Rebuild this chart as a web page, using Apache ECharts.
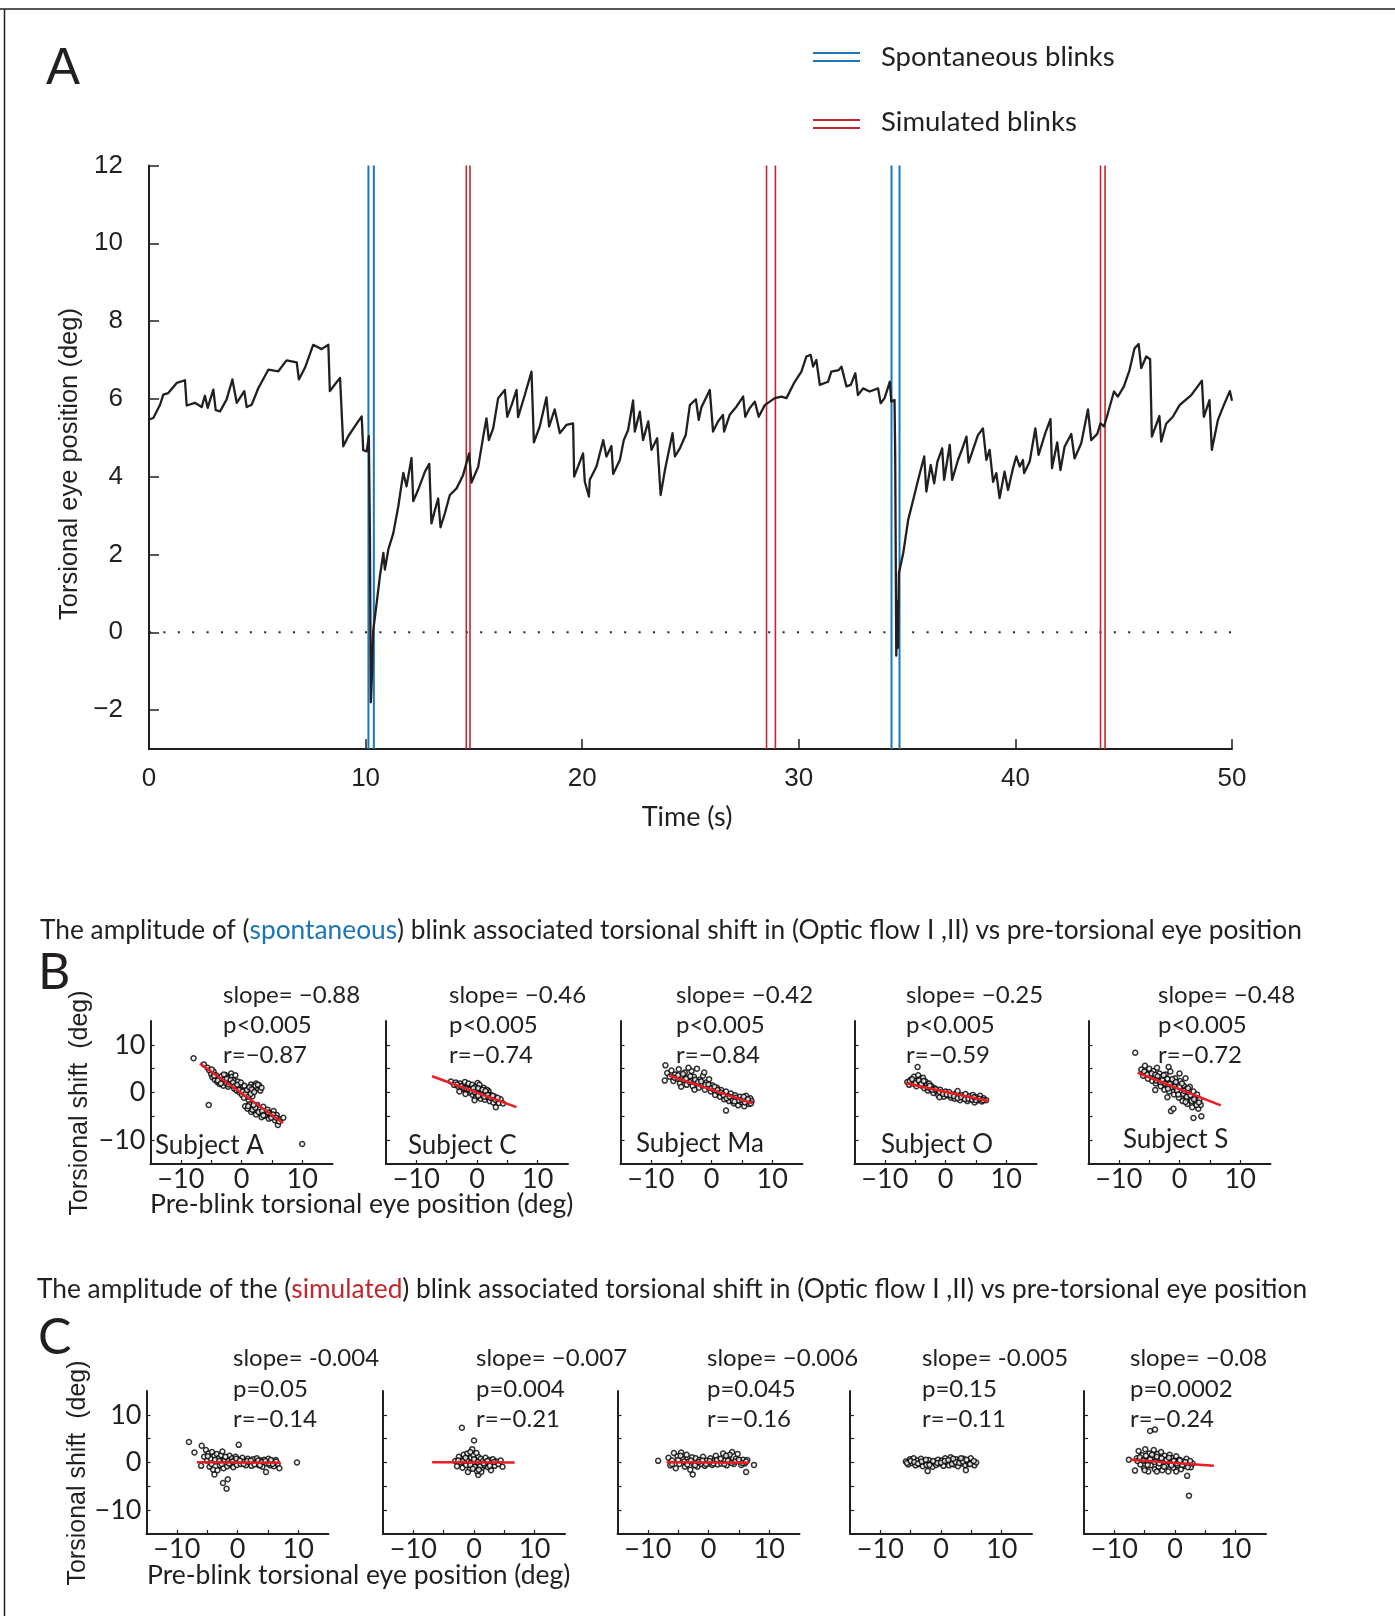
<!DOCTYPE html>
<html><head><meta charset="utf-8">
<script src="https://cdn.jsdelivr.net/npm/echarts@6/dist/echarts.min.js"></script>
<style>html,body{margin:0;padding:0;background:#fff}#c{width:1395px;height:1616px}</style>
</head><body><div id="c"></div>
<script>
// ---------------- DATA ----------------
const timeTicks = [0, 10, 20, 30, 40, 50];
const positionTicks = [-2, 0, 2, 4, 6, 8, 10, 12];
const scatterTicks = [-10, -5, 0, 5, 10];
const scatterTickLabels = [-10, 0, 10];

// torsional eye position trace [time s, deg]
const trace = [[0,5.47],[0.2,5.51],[0.51,5.85],[0.66,6.11],[0.89,6.15],[1.28,6.41],[1.66,6.48],[1.74,5.83],[2.12,5.9],[2.43,5.79],[2.58,6.08],[2.71,5.77],[2.97,6.24],[3.08,5.71],[3.28,5.68],[3.58,5.98],[3.85,6.5],[4.05,5.9],[4.4,6.2],[4.51,5.79],[4.74,5.85],[5.05,6.28],[5.51,6.75],[5.97,6.71],[6.35,6.99],[6.82,6.94],[6.92,6.5],[7.2,6.8],[7.58,7.39],[7.97,7.28],[8.28,7.39],[8.35,6.2],[8.58,6.37],[8.82,6.54],[8.97,4.78],[9.2,5.04],[9.51,5.3],[9.82,5.55],[9.89,4.68],[10.05,4.65],[10.15,5.04],[10.2,2.5],[10.24,-1.8],[10.3,-1.0],[10.35,0.03],[10.51,0.75],[10.66,1.44],[10.82,2.04],[10.89,1.61],[11.05,2.13],[11.28,2.55],[11.51,3.24],[11.74,4.1],[11.89,3.75],[12.12,4.48],[12.2,3.37],[12.43,3.67],[12.74,4.13],[12.94,4.33],[13.04,2.8],[13.2,3.14],[13.35,3.44],[13.46,2.7],[13.66,3.06],[13.89,3.53],[14.2,3.7],[14.5,4.04],[14.78,4.6],[14.89,3.85],[15.2,4.26],[15.43,5.03],[15.58,5.5],[15.69,4.94],[15.89,5.24],[16.12,6.02],[16.43,6.23],[16.54,5.54],[16.74,5.84],[16.97,6.23],[17.04,5.53],[17.35,6.1],[17.66,6.7],[17.77,4.88],[18.04,5.29],[18.35,6.04],[18.47,5.29],[18.73,5.73],[18.97,5.12],[19.27,5.33],[19.58,5.37],[19.63,4.0],[20.04,4.6],[20.12,3.87],[20.31,3.49],[20.35,3.92],[20.66,4.26],[20.97,4.94],[21.12,4.52],[21.35,4.79],[21.43,4.07],[21.74,4.43],[21.92,4.94],[22.12,5.2],[22.35,5.96],[22.43,5.16],[22.66,5.67],[22.81,4.94],[23.05,5.42],[23.2,4.69],[23.46,4.99],[23.62,3.53],[23.82,4.17],[24.17,5.12],[24.28,4.52],[24.51,4.73],[24.78,5.07],[24.97,5.84],[25.25,5.99],[25.38,5.46],[25.5,5.78],[25.89,6.23],[26.04,5.16],[26.27,5.42],[26.5,5.59],[26.55,5.16],[26.81,5.59],[27.12,5.8],[27.43,6.06],[27.53,5.54],[27.73,5.76],[27.97,5.93],[28.15,5.54],[28.43,5.84],[28.89,6.02],[29.2,6.06],[29.43,6.02],[29.81,6.44],[30.12,6.7],[30.35,7.09],[30.55,7.13],[30.66,6.83],[30.81,7.0],[30.97,6.36],[31.35,6.44],[31.5,6.7],[31.84,6.74],[31.97,6.83],[32.2,6.32],[32.4,6.36],[32.61,6.66],[32.73,6.1],[32.97,6.27],[33.27,6.19],[33.66,6.27],[33.78,5.89],[33.96,6.02],[34.2,6.44],[34.27,5.93],[34.42,5.97],[34.45,4.6],[34.5,-0.6],[34.55,0.8],[34.58,-0.4],[34.62,1.52],[34.82,2.03],[35.05,2.89],[35.28,3.4],[35.51,3.92],[35.79,4.52],[35.89,3.62],[36.09,4.3],[36.25,3.83],[36.4,4.39],[36.62,4.73],[36.71,3.92],[36.97,4.82],[37.08,3.92],[37.35,4.43],[37.58,4.77],[37.74,5.03],[37.84,4.36],[38.04,4.69],[38.27,5.07],[38.5,5.24],[38.66,4.43],[38.81,4.69],[38.97,3.87],[39.12,4.09],[39.27,3.45],[39.5,4.13],[39.66,3.66],[39.89,4.22],[40.04,4.52],[40.2,4.26],[40.35,4.43],[40.4,4.09],[40.66,4.39],[40.92,5.24],[41.07,4.56],[41.38,5.12],[41.62,5.48],[41.69,4.22],[41.93,4.88],[42.08,4.17],[42.27,4.77],[42.58,5.1],[42.73,4.47],[43.04,4.86],[43.35,5.73],[43.5,4.94],[43.78,5.1],[43.93,5.37],[44.09,5.29],[44.27,5.63],[44.55,6.19],[44.73,6.06],[45.01,6.32],[45.27,6.74],[45.5,7.3],[45.69,7.41],[45.81,6.79],[46.04,7.09],[46.22,7.02],[46.3,5.03],[46.65,5.56],[46.73,4.9],[46.96,5.36],[47.27,5.54],[47.58,5.84],[48.12,6.1],[48.35,6.27],[48.61,6.47],[48.7,5.54],[48.96,5.97],[49.07,4.69],[49.35,5.46],[49.66,5.89],[49.9,6.2],[50.0,5.95]];

const spontaneousBlinks = [10.13, 10.38, 34.28, 34.65];
const simulatedBlinks = [14.65, 14.82, 28.51, 28.92, 43.93, 44.14];
const zeroLine = [[0, 0], [50, 0]];

const subjects = ['Subject A', 'Subject C', 'Subject Ma', 'Subject O', 'Subject S'];
const statsB = [['slope= \u22120.88','p<0.005','r=\u22120.87'],['slope= \u22120.46','p<0.005','r=\u22120.74'],['slope= \u22120.42','p<0.005','r=\u22120.84'],['slope= \u22120.25','p<0.005','r=\u22120.59'],['slope= \u22120.48','p<0.005','r=\u22120.72']];
const statsC = [['slope= -0.004','p=0.05','r=\u22120.14'],['slope= \u22120.007','p=0.004','r=\u22120.21'],['slope= \u22120.006','p=0.045','r=\u22120.16'],['slope= -0.005','p=0.15','r=\u22120.11'],['slope= \u22120.08','p=0.0002','r=\u22120.24']];

// spontaneous blinks: [pre-blink position, torsional shift]
const spontA = [[-7.9,7.2],[-6.2,5.9],[-5.6,5.2],[-5.3,4.6],[-5.0,3.9],[-4.8,3.2],[-4.6,4.4],[-4.4,2.7],[-4.2,3.6],[-4.0,2.2],[-3.8,3.0],[-3.6,1.8],[-3.5,2.6],[-3.3,3.4],[-3.1,2.1],[-3.0,1.4],[-2.8,2.8],[-2.6,3.6],[-2.5,1.9],[-2.3,2.4],[-2.2,1.2],[-2.0,3.1],[-1.9,2.0],[-1.7,4.0],[-1.6,3.3],[-1.5,1.5],[-1.3,2.6],[-1.2,0.8],[-1.0,3.6],[-0.9,1.8],[-0.8,0.4],[-0.6,2.3],[-0.5,1.1],[-0.3,0.0],[-0.2,1.6],[0.0,0.6],[0.1,-0.5],[0.3,1.2],[0.4,-1.1],[0.6,0.3],[0.8,-0.4],[1.0,0.9],[1.2,-1.6],[1.4,0.2],[1.6,1.7],[1.8,-0.8],[2.0,1.3],[2.2,0.6],[2.4,1.9],[2.6,0.9],[2.9,1.5],[3.1,0.4],[-5.4,-2.6],[0.6,-2.9],[1.0,-3.4],[1.3,-2.5],[1.6,-4.1],[1.9,-3.0],[2.1,-3.8],[2.4,-4.6],[2.6,-2.6],[2.9,-3.5],[3.1,-4.3],[3.3,-5.2],[3.6,-3.0],[3.8,-4.0],[4.0,-4.9],[4.3,-3.6],[4.5,-5.5],[4.8,-4.4],[5.0,-5.0],[5.3,-3.9],[5.5,-5.8],[5.8,-4.7],[6.0,-6.8],[6.4,-5.6],[6.9,-5.3],[10.0,-10.8],[-4.9,4.8],[-4.5,3.5],[-3.9,2.5],[-3.4,1.9],[-2.9,3.8],[-2.4,2.9],[-2.1,1.7],[-1.8,2.6],[-1.4,2.1],[-1.1,1.3],[-0.7,1.6],[-0.4,0.5],[-0.1,2.1],[0.2,0.2],[0.5,1.4],[0.7,-0.2],[0.9,0.5],[1.1,-0.9],[1.3,1.1],[1.5,-0.3],[1.7,0.7],[2.1,0.1],[2.3,1.4],[2.7,1.6],[3.3,1.0],[1.1,-2.9],[1.8,-3.6],[2.3,-3.2],[2.8,-4.1],[3.4,-3.9],[3.9,-4.6],[4.4,-4.2],[4.9,-5.3],[5.2,-4.6],[5.7,-5.3],[6.2,-6.1],[3.6,-4.8],[2.0,-2.6]];
const spontC = [[-4.3,2.3],[-3.8,1.6],[-3.5,2.1],[-3.1,1.2],[-2.8,1.9],[-2.5,0.8],[-2.3,1.5],[-2.0,2.2],[-1.8,0.4],[-1.6,1.2],[-1.4,1.9],[-1.2,0.0],[-1.0,0.9],[-0.8,1.6],[-0.7,-0.5],[-0.5,0.5],[-0.3,1.2],[-0.2,-1.0],[0.0,0.3],[0.1,2.0],[0.3,-0.4],[0.5,0.8],[0.6,-1.3],[0.8,0.1],[1.0,-0.7],[1.1,1.0],[1.3,-1.5],[1.5,-0.2],[1.7,-1.0],[1.9,0.3],[2.1,-1.8],[2.3,-0.6],[2.5,-1.2],[2.7,-2.1],[2.9,-0.9],[3.1,-3.1],[3.3,-1.6],[3.6,-2.2],[3.9,-1.4],[4.3,-2.3],[-2.9,0.2],[-0.4,-1.6],[0.4,1.6],[1.6,0.6],[-1.9,-0.3],[-3.3,1.7],[-2.6,1.3],[-2.1,0.9],[-1.7,0.8],[-1.3,0.6],[-0.9,0.2],[-0.6,0.9],[-0.1,-0.3],[0.2,0.9],[0.7,-0.4],[0.9,0.6],[1.2,-0.9],[1.4,0.3],[1.8,-0.5],[2.2,-1.1],[2.6,-0.7],[3.0,-1.5],[3.4,-1.1],[0.2,-0.7],[-0.4,0.1]];
const spontMa = [[-7.6,5.7],[-7.7,2.5],[-7.3,4.1],[-6.9,3.3],[-6.6,4.6],[-6.3,2.4],[-6.0,3.8],[-5.7,2.9],[-5.4,4.9],[-5.2,1.9],[-4.9,3.4],[-4.6,2.6],[-4.4,4.2],[-4.1,1.6],[-3.9,3.0],[-3.6,2.2],[-3.3,4.5],[-3.1,1.3],[-2.9,3.3],[-2.6,2.0],[-2.4,5.0],[-2.1,1.0],[-1.9,2.7],[-1.6,1.6],[-1.4,3.5],[-1.1,0.6],[-0.9,2.1],[-0.6,1.2],[-0.4,2.8],[-0.1,0.2],[0.1,1.5],[0.4,0.6],[0.6,-0.5],[0.9,1.0],[1.1,0.1],[1.4,-0.9],[1.6,0.5],[1.9,-0.3],[2.1,-1.4],[2.4,-3.8],[2.4,0.2],[2.7,-0.8],[2.9,-1.8],[3.2,-0.2],[3.4,-1.2],[3.7,-2.3],[3.9,-0.6],[4.2,-1.6],[4.4,-2.7],[4.7,-0.9],[4.9,-2.0],[5.2,-1.3],[5.4,-2.9],[5.7,-0.7],[5.9,-1.9],[6.2,-2.4],[6.4,-1.2],[6.6,-1.8],[-5.0,1.2],[-3.8,5.2],[-2.8,0.6],[-1.2,4.2],[-6.1,3.1],[-5.5,3.6],[-4.7,3.9],[-4.2,2.9],[-3.5,3.4],[-2.7,2.7],[-2.2,2.2],[-1.7,2.3],[-1.0,1.6],[-0.5,1.7],[0.0,0.9],[0.5,1.2],[1.0,0.5],[1.5,0.0],[2.0,-0.6],[2.5,-1.2],[3.0,-0.9],[3.5,-1.7],[4.0,-1.1],[4.5,-1.7],[5.0,-1.5],[5.5,-2.1],[6.0,-1.4],[6.5,-2.3],[3.8,-1.9],[5.3,-0.9]];
const spontO = [[-4.6,5.35],[-6.3,2.2],[-6.0,1.6],[-5.7,2.7],[-5.4,1.9],[-5.2,3.3],[-5.0,2.4],[-4.8,1.3],[-4.5,3.6],[-4.3,2.0],[-4.1,2.9],[-3.9,1.4],[-3.7,3.1],[-3.5,0.9],[-3.3,2.3],[-3.1,1.6],[-2.9,0.4],[-2.7,1.9],[-2.5,0.8],[-2.3,1.3],[-2.0,-0.1],[-1.8,0.9],[-1.5,0.3],[-1.2,-0.5],[-0.9,0.6],[-0.6,-0.2],[-0.3,-0.9],[0.0,0.2],[0.3,-0.6],[0.6,0.1],[0.9,-1.1],[1.2,-0.4],[1.5,-1.3],[1.8,-0.2],[2.1,-0.9],[2.4,-1.6],[2.7,-0.6],[3.0,-1.2],[3.3,-0.3],[3.6,-1.8],[3.9,-0.8],[4.2,-1.4],[4.5,-0.5],[4.8,-2.1],[5.1,-1.0],[5.4,-1.6],[5.7,-0.7],[6.0,-1.9],[6.3,-1.2],[6.7,-1.6],[-1.0,-1.0],[2.0,0.3],[-5.9,2.4],[-5.5,2.8],[-4.9,2.0],[-4.4,2.5],[-4.0,1.8],[-3.6,2.4],[-3.0,1.1],[-2.6,1.4],[-2.2,0.6],[-1.6,0.7],[-1.0,0.1],[-0.4,-0.3],[0.2,-0.4],[0.8,-0.6],[1.4,-0.8],[2.0,-1.2],[2.6,-1.0],[3.2,-1.4],[3.8,-1.3],[4.4,-1.5],[5.0,-1.6],[5.6,-1.3],[6.2,-1.6],[4.7,-1.0]];
const spontS = [[-7.3,8.35],[-1.8,5.35],[-6.3,4.8],[-6.0,3.5],[-5.7,5.6],[-5.5,4.2],[-5.2,2.9],[-5.0,5.0],[-4.8,3.6],[-4.5,2.4],[-4.3,4.5],[-4.1,3.1],[-3.9,1.9],[-3.7,5.2],[-3.5,2.7],[-3.3,4.0],[-3.1,1.3],[-2.9,3.3],[-2.7,2.1],[-2.5,0.6],[-2.3,3.8],[-2.1,1.6],[-1.9,2.7],[-1.7,0.2],[-1.5,4.4],[-1.3,1.1],[-1.1,2.3],[-0.9,-0.4],[-0.7,3.0],[-0.5,0.8],[-0.3,1.8],[-0.1,-1.1],[0.1,2.4],[0.3,0.3],[0.5,-1.8],[0.7,1.4],[0.9,-0.6],[1.1,0.7],[1.3,-2.4],[1.5,-0.1],[1.7,1.2],[1.9,-1.3],[2.1,-3.1],[2.3,0.2],[2.5,-0.9],[2.7,-2.0],[2.9,-0.4],[3.1,-3.4],[3.3,-1.5],[3.5,-2.6],[-1.4,-3.9],[-1.0,-3.4],[2.3,-5.35],[3.6,-5.0],[-2.0,-1.0],[0.0,4.0],[-4.0,0.5],[1.0,3.0],[-5.8,4.4],[-5.3,3.8],[-4.6,4.0],[-4.0,3.7],[-3.6,3.4],[-3.2,2.2],[-2.8,2.6],[-2.4,1.9],[-2.0,2.9],[-1.6,1.8],[-1.2,2.8],[-0.8,1.2],[-0.4,0.4],[0.0,1.2],[0.4,1.9],[0.6,-0.3],[0.8,0.3],[1.2,-0.9],[1.4,0.9],[1.8,-0.6],[2.0,-1.8],[2.4,-1.4],[2.8,-2.6],[3.2,-2.1],[-1.9,0.8],[-0.6,2.2],[1.0,-2.0],[-2.6,3.6],[-3.8,2.5],[-0.2,-0.4]];

// simulated blinks
const simA = [[-8.0,4.3],[-7.1,2.1],[-5.9,3.5],[-6.0,-0.7],[-5.5,1.2],[-5.2,2.6],[-5.0,0.4],[-4.8,1.9],[-4.6,-0.9],[-4.4,0.8],[-4.2,2.2],[-4.0,-1.5],[-3.8,1.4],[-3.8,-2.5],[-3.6,0.2],[-3.4,1.8],[-3.3,-1.6],[-3.1,0.9],[-2.9,-0.6],[-2.7,1.5],[-2.5,2.3],[-2.4,-4.3],[-2.3,-1.2],[-2.1,0.5],[-1.8,-5.5],[-1.9,1.1],[-1.7,-0.8],[-1.6,-3.5],[-1.5,0.3],[-1.3,1.4],[-1.1,-0.4],[-0.9,0.9],[-0.7,-1.0],[-0.5,0.4],[-0.3,1.2],[-0.1,-0.5],[0.2,3.7],[0.2,0.6],[0.5,-0.3],[0.8,1.0],[1.1,0.2],[1.4,-0.6],[1.7,0.8],[2.0,0.0],[2.3,-0.7],[2.6,0.7],[2.9,-0.2],[3.2,0.9],[3.5,-0.5],[3.8,0.4],[4.1,-0.9],[4.4,0.6],[4.7,-2.0],[4.8,-0.2],[5.1,0.8],[5.4,-0.6],[5.7,0.3],[6.0,-0.8],[6.3,0.5],[6.6,-0.3],[6.9,-1.2],[9.8,0.0],[-4.9,1.3],[-4.3,-0.3],[-3.7,0.6],[-3.0,0.3],[-2.6,-0.3],[-2.0,1.2],[-1.4,-0.2],[-0.8,0.2],[-0.2,0.8],[0.4,0.4],[1.0,-0.3],[1.6,0.3],[2.2,0.4],[2.8,-0.4],[3.4,0.4],[4.0,0.1],[4.6,0.3],[5.2,-0.2],[5.8,-0.3],[6.4,0.2],[3.7,-0.6],[5.5,0.5]];
const simC = [[-2.0,7.3],[0.0,4.6],[-0.3,2.8],[0.7,-2.6],[2.8,-1.6],[4.7,-0.9],[-3.1,0.3],[-2.8,-0.8],[-2.5,1.2],[-2.2,0.0],[-1.9,-1.1],[-1.7,1.6],[-1.5,0.6],[-1.3,-0.5],[-1.1,1.9],[-0.9,0.2],[-0.7,-1.4],[-0.5,1.0],[-0.3,-0.2],[-0.1,1.5],[0.1,-0.9],[0.3,0.6],[0.5,-1.8],[0.7,1.2],[0.9,-0.3],[1.1,0.8],[1.3,-1.2],[1.5,0.3],[1.7,-0.6],[1.9,1.0],[2.1,-0.1],[2.3,-1.0],[2.5,0.5],[2.8,-0.4],[3.1,0.7],[3.4,-0.7],[3.7,0.2],[4.0,-0.3],[4.4,0.4],[-0.6,2.2],[0.4,2.0],[1.2,-2.0],[-1.0,-2.0],[-2.6,0.4],[-1.8,0.3],[-1.2,0.5],[-0.6,-0.5],[0.0,0.7],[0.6,0.1],[1.0,-0.8],[1.6,-0.2],[2.2,0.3],[2.6,-0.7],[3.3,0.1],[-0.2,-1.3],[0.8,-1.5],[-1.4,1.0]];
const simMa = [[-8.3,0.35],[-6.6,1.0],[-6.3,-0.6],[-6.0,0.4],[-5.7,2.0],[-5.4,-1.2],[-5.1,1.3],[-4.8,-0.3],[-4.5,2.1],[-4.2,0.7],[-3.9,-0.9],[-3.6,1.6],[-3.3,0.2],[-3.0,-1.5],[-2.7,1.1],[-2.6,-2.5],[-2.4,-0.4],[-2.1,0.9],[-1.8,-0.9],[-1.5,0.5],[-1.2,-0.3],[-0.9,1.2],[-0.6,-0.7],[-0.3,0.4],[0.0,-0.2],[0.3,0.9],[0.6,-0.5],[0.9,0.3],[1.2,1.4],[1.5,-0.4],[1.8,0.6],[2.1,-0.2],[2.4,1.9],[2.7,0.4],[3.0,-0.6],[3.3,1.2],[3.6,0.1],[3.9,2.2],[4.2,-0.3],[4.5,0.8],[4.8,1.8],[5.1,0.2],[5.4,-0.5],[5.7,0.6],[6.0,-0.2],[6.2,-2.0],[6.4,0.5],[7.5,-0.5],[-6.0,-0.3],[-5.0,0.5],[-4.0,0.2],[-3.5,-0.4],[-2.9,0.4],[-2.2,-0.6],[-1.6,0.1],[-1.0,0.4],[-0.4,-0.3],[0.2,0.3],[0.8,-0.2],[1.4,0.5],[2.0,0.8],[2.6,-0.3],[3.2,0.4],[3.8,-0.1],[4.4,0.2],[5.0,0.6],[5.6,-0.1],[6.2,0.2],[3.5,1.6],[2.9,1.4],[-4.6,1.4]];
const simO = [[-5.8,0.2],[-5.4,-0.4],[-5.1,0.7],[-4.8,-0.1],[-4.5,0.9],[-4.2,-0.6],[-3.9,0.4],[-3.6,-0.3],[-3.3,0.8],[-3.0,-0.8],[-2.7,0.2],[-2.4,-0.5],[-2.2,-1.8],[-2.0,0.5],[-1.7,-0.2],[-1.4,-0.9],[-1.1,0.1],[-0.8,-0.5],[-0.5,0.6],[-0.2,-0.2],[0.1,0.4],[0.4,-0.7],[0.7,0.9],[1.0,0.0],[1.3,-0.6],[1.6,1.1],[1.9,0.3],[2.2,-0.4],[2.5,0.7],[2.8,-0.8],[3.1,0.5],[3.4,-0.2],[3.7,0.8],[4.0,-0.5],[4.1,-1.6],[4.3,0.3],[4.6,-0.3],[4.9,0.9],[5.2,0.0],[5.5,-0.6],[5.8,0.0],[-5.6,-0.1],[-5.0,0.3],[-4.4,0.1],[-3.8,-0.2],[-3.2,0.2],[-2.5,0.6],[-1.9,-0.5],[-1.3,0.3],[-0.6,-0.1],[0.0,0.0],[0.6,0.3],[1.2,0.5],[1.8,-0.3],[2.4,0.1],[3.0,-0.1],[3.6,0.2],[4.2,0.6],[4.8,-0.3],[5.4,0.3],[2.0,0.8],[3.3,0.9]];
const simS = [[-7.6,0.6],[-4.1,6.6],[-3.3,6.9],[2.3,-6.95],[2.0,-2.8],[0.2,-1.9],[-6.6,-1.7],[-6.3,0.9],[-6.0,2.4],[-5.7,-0.4],[-5.4,1.5],[-5.1,-1.2],[-4.9,2.8],[-4.7,0.3],[-4.4,-1.9],[-4.2,1.9],[-4.0,-0.6],[-3.7,1.0],[-3.5,2.6],[-3.3,-1.4],[-3.1,0.5],[-2.9,1.8],[-2.7,-0.9],[-2.5,0.9],[-2.3,2.2],[-2.1,-1.6],[-1.9,0.1],[-1.7,1.4],[-1.5,-0.7],[-1.3,0.7],[-1.1,-1.9],[-0.9,1.6],[-0.7,-0.2],[-0.5,0.9],[-0.3,-1.1],[-0.1,0.4],[0.2,1.3],[0.4,-0.6],[0.7,0.6],[1.0,-1.4],[1.3,0.2],[1.6,-0.7],[1.9,0.8],[2.2,-0.3],[2.6,-1.0],[2.9,-0.2],[-6.2,0.3],[-5.8,1.1],[-5.2,0.4],[-4.8,1.4],[-4.5,-0.5],[-4.1,0.7],[-3.8,1.6],[-3.4,0.1],[-3.0,1.2],[-2.6,-0.2],[-2.2,0.9],[-1.8,-0.9],[-1.4,0.5],[-1.0,1.0],[-0.6,-0.6],[-0.2,0.3],[0.3,-0.2],[0.8,0.4],[1.2,-0.5],[1.7,0.1],[2.1,-1.0],[2.5,0.3],[-3.0,-1.9],[-5.0,-1.6]];

// regression line end points [x,y] pairs
const fitSpont = [[[-6.85,6.08],[6.86,-6.42]],[[-7.4,3.4],[6.5,-3.06]],[[-7.0,3.57],[6.78,-2.27]],[[-6.57,1.93],[7.07,-1.78]],[[-6.9,4.15],[6.8,-2.7]]];
const fitSim = [[[-6.7,0.03],[7.1,-0.03]],[[-6.9,0.05],[6.7,0.0]],[[-6.9,0.05],[6.7,-0.05]],null,[[-7.4,0.57],[6.4,-0.7]]];

const spontPoints = [spontA, spontC, spontMa, spontO, spontS];
const simPoints = [simA, simC, simMa, simO, simS];

// ---------------- CHART ----------------
const INK = '#231f20', BLUE = '#1b75bb', RED = '#c1272d', FITRED = '#ed1c24';
const MYR = 'Lato', HEL = 'Liberation Sans';
const minus = v => (v < 0 ? '\u2212' + Math.abs(v) : String(v));

const grids = [], xAxes = [], yAxes = [], series = [];

grids.push({left: 149, top: 165.5, width: 1083, height: 583.5, containLabel: false, outerBoundsMode: 'none'});
xAxes.push({gridIndex: 0, type: 'value', min: 0, max: 50, interval: 10,
  axisLine: {show: true, onZero: false, lineStyle: {color: INK, width: 2}},
  axisTick: {show: true, inside: true, length: 10, customValues: timeTicks, lineStyle: {color: INK, width: 1.5}},
  axisLabel: {show: true, margin: 17, color: INK, fontFamily: HEL, fontSize: 26, customValues: timeTicks, formatter: minus},
  splitLine: {show: false}});
yAxes.push({gridIndex: 0, type: 'value', min: -3, max: 12,
  axisLine: {show: true, onZero: false, lineStyle: {color: INK, width: 2}},
  axisTick: {show: true, inside: true, length: 10, customValues: positionTicks, lineStyle: {color: INK, width: 1.5}},
  axisLabel: {show: true, margin: 26, color: INK, fontFamily: HEL, fontSize: 26, customValues: positionTicks, formatter: minus},
  splitLine: {show: false}});

series.push({type: 'line', xAxisIndex: 0, yAxisIndex: 0, data: zeroLine, symbol: 'none', silent: true,
  lineStyle: {color: INK, width: 2, type: [2, 12.4], cap: 'butt'}, z: 1});
spontaneousBlinks.forEach(t => series.push({type: 'line', xAxisIndex: 0, yAxisIndex: 0, data: [[t, -3], [t, 12]],
  symbol: 'none', silent: true, lineStyle: {color: BLUE, width: 2}, z: 2}));
simulatedBlinks.forEach(t => series.push({type: 'line', xAxisIndex: 0, yAxisIndex: 0, data: [[t, -3], [t, 12]],
  symbol: 'none', silent: true, lineStyle: {color: RED, width: 1.6}, z: 2}));
series.push({type: 'line', xAxisIndex: 0, yAxisIndex: 0, data: trace, symbol: 'none', silent: true,
  lineStyle: {color: INK, width: 2.3, join: 'round'}, z: 5});

const leftB = [150.5, 386, 620.5, 854.5, 1088.5];
const leftC = [146.5, 383, 617.5, 850, 1084];

function addScatter(left, top, pts, fit, showY) {
  const gi = grids.length;
  grids.push({left: left, top: top, width: 182, height: 143, containLabel: false, outerBoundsMode: 'none'});
  xAxes.push({gridIndex: gi, type: 'value', min: -15, max: 15,
    axisLine: {show: true, onZero: false, lineStyle: {color: INK, width: 2}},
    axisTick: {show: true, inside: true, length: 4, customValues: scatterTicks, lineStyle: {color: INK, width: 1.2}},
    axisLabel: {show: true, margin: 2, color: INK, fontFamily: MYR, fontSize: 27, customValues: scatterTickLabels, formatter: minus},
    splitLine: {show: false}});
  yAxes.push({gridIndex: gi, type: 'value', min: -15, max: 15,
    axisLine: {show: true, onZero: false, lineStyle: {color: INK, width: 2}},
    axisTick: {show: true, inside: true, length: 4, customValues: scatterTicks, lineStyle: {color: INK, width: 1.2}},
    axisLabel: {show: showY, margin: 5, color: INK, fontFamily: MYR, fontSize: 27, customValues: scatterTickLabels, formatter: minus},
    splitLine: {show: false}});
  series.push({type: 'scatter', xAxisIndex: gi, yAxisIndex: gi, data: pts, symbol: 'circle', symbolSize: 5, silent: true,
    itemStyle: {color: '#fff', borderColor: '#000', borderWidth: 1.5}, z: 3});
  if (fit) series.push({type: 'line', xAxisIndex: gi, yAxisIndex: gi, data: fit, symbol: 'none', silent: true,
    lineStyle: {color: FITRED, width: 2.5}, z: 4});
}
for (let i = 0; i < 5; i++) addScatter(leftB[i], 1021, spontPoints[i], fitSpont[i], i === 0);
for (let i = 0; i < 5; i++) addScatter(leftC[i], 1391, simPoints[i], fitSim[i], i === 0);

// ---------------- TEXT ----------------
const g = [];
function txt(s, x, y, size, fam, opts) {
  opts = opts || {};
  g.push({type: 'text', x: x, y: y, rotation: opts.rot || 0, silent: true, z: 20,
    style: {text: s, fill: opts.fill || INK, font: 'normal ' + size + 'px "' + fam + '"',
      align: opts.align || 'left', verticalAlign: 'middle'}});
}
function line(x1, y1, x2, y2, color, w) {
  g.push({type: 'line', silent: true, z: 20, shape: {x1: x1, y1: y1, x2: x2, y2: y2}, style: {stroke: color, lineWidth: w}});
}
// frame
line(0, 9, 1395, 9, INK, 1.5);
line(4.5, 9, 4.5, 1616, INK, 1.5);

txt('A', 46, 70, 51, HEL);
line(813, 53, 860, 53, BLUE, 2.2); line(813, 61, 860, 61, BLUE, 2.2);
line(813, 120, 860, 120, RED, 2.2); line(813, 128, 860, 128, RED, 2.2);
txt('Spontaneous blinks', 881, 57, 27.5, MYR);
txt('Simulated blinks', 881, 122.5, 27.5, MYR);
txt('Time (s)', 687, 817, 27, MYR, {align: 'center'});
txt('Torsional eye position (deg)', 70, 464, 25.5, HEL, {align: 'center', rot: Math.PI / 2});

function richTitle(word, color, pre, post, x, y) {
  const fs = 26.3;
  g.push({type: 'text', x: x, y: y, silent: true, z: 20,
    style: {text: '{n|' + pre + '}{c|' + word + '}{n|' + post + '}', verticalAlign: 'middle', align: 'left',
      font: fs + 'px "' + MYR + '"', fill: INK,
      rich: {n: {fill: INK, fontSize: fs, fontFamily: MYR}, c: {fill: color, fontSize: fs, fontFamily: MYR}}}});
}
richTitle('spontaneous', BLUE, 'The amplitude of (', ') blink associated torsional shift in (Optic flow I ,II) vs pre-torsional eye position', 40, 931);
richTitle('simulated', RED, 'The amplitude of the (', ') blink associated torsional shift in (Optic flow I ,II) vs pre-torsional eye position', 37, 1290);

txt('B', 38, 973, 50, MYR);
txt('C', 38, 1338, 50, MYR);

const annXB = [223, 449, 676, 906, 1158], annYB = [995, 1025, 1055];
const annXC = [233, 476, 707, 922, 1130], annYC = [1358, 1389, 1419];
for (let i = 0; i < 5; i++) {
  for (let k = 0; k < 3; k++) {
    txt(statsB[i][k], annXB[i], annYB[k], 24, MYR);
    txt(statsC[i][k], annXC[i], annYC[k], 24, MYR);
  }
}
const subjX = [155, 408, 636, 881, 1123], subjY = [1146, 1146, 1144, 1145, 1140];
for (let i = 0; i < 5; i++) txt(subjects[i], subjX[i], subjY[i], 26, MYR);

txt('Pre-blink torsional eye position (deg)', 150, 1204.5, 26.5, MYR);
txt('Pre-blink torsional eye position (deg)', 147, 1575, 26.5, MYR);
txt('Torsional shift  (deg)', 80, 1103, 25, HEL, {align: 'center', rot: Math.PI / 2});
txt('Torsional shift  (deg)', 78, 1473, 25, HEL, {align: 'center', rot: Math.PI / 2});

const chart = echarts.init(document.getElementById('c'), null, {renderer: 'canvas', width: 1395, height: 1616});
chart.setOption({
  animation: false,
  backgroundColor: '#fff',
  grid: grids, xAxis: xAxes, yAxis: yAxes, series: series, graphic: g
});
</script></body></html>
